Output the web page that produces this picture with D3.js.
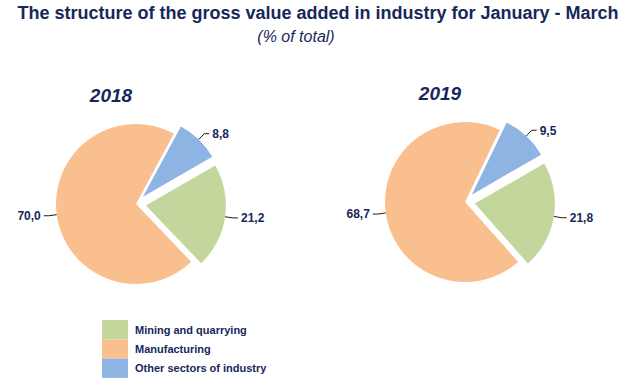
<!DOCTYPE html>
<html lang="en">

<head>
    <meta charset="UTF-8">
    <title>Gross value added in industry</title>
    <script src="https://d3js.org/d3.v7.min.js"></script>
    <style>
        body { margin: 0; background: #fff; }
        text { font-family: "Liberation Sans", Arial, sans-serif; fill: #17275a; }
    </style>
</head>

<body>
    <div id="plot-container"></div>

    <script>
        // data
        const categories = ["Mining and quarrying", "Manufacturing", "Other sectors of industry"];
        const years = ["2018", "2019"];
        const values2018 = [21.2, 70.0, 8.8];
        const values2019 = [21.8, 68.7, 9.5];
        const seriesValues = [values2018, values2019];

        const colors = ["#c3d69b", "#fabf8f", "#8eb4e3"];
        const explode = [10, 0, 10];   // px each slice is pulled out

        const width = 631, height = 387;
        const radius = 80;
        const centers = [[136, 204], [465, 202]];
        const startDeg = 60;

        const svg = d3.select("#plot-container")
            .append("svg")
            .attr("width", width)
            .attr("height", height);

        // titles
        svg.append("text")
            .attr("x", 318)
            .attr("y", 19)
            .attr("text-anchor", "middle")
            .style("font-size", "18px")
            .style("font-weight", "bold")
            .text("The structure of the gross value added in industry for January - March");

        svg.append("text")
            .attr("x", 296)
            .attr("y", 42)
            .attr("text-anchor", "middle")
            .style("font-size", "16px")
            .style("font-style", "italic")
            .text("(% of total)");

        const pie = d3.pie()
            .sort(null)
            .value(d => d)
            .startAngle(startDeg * Math.PI / 180)
            .endAngle(startDeg * Math.PI / 180 + 2 * Math.PI);

        const arc = d3.arc().innerRadius(0).outerRadius(radius);
        const fmt = v => d3.format(".1f")(v).replace(".", ",");

        years.forEach((year, k) => {
            const g = svg.append("g")
                .attr("transform", `translate(${centers[k][0]},${centers[k][1]})`);

            g.append("text")
                .attr("x", -25)
                .attr("y", -102)
                .attr("text-anchor", "middle")
                .style("font-size", "19px")
                .style("font-weight", "bold")
                .style("font-style", "italic")
                .text(year);

            const pieData = pie(seriesValues[k]);

            const slice = g.selectAll("g.slice")
                .data(pieData)
                .enter()
                .append("g")
                .attr("class", "slice")
                .attr("transform", (d, i) => {
                    const a = (d.startAngle + d.endAngle) / 2;
                    return `translate(${Math.sin(a) * explode[i]},${-Math.cos(a) * explode[i]})`;
                });

            slice.append("path")
                .attr("d", arc)
                .attr("fill", (d, i) => colors[i]);

            // leader lines and value labels
            slice.each(function (d) {
                const a = (d.startAngle + d.endAngle) / 2;
                const sx = Math.sin(a), sy = -Math.cos(a);
                const side = sx >= 0 ? 1 : -1;
                const p0 = [sx * radius, sy * radius];
                const p1 = [sx * (radius + 8), sy * (radius + 8)];
                const p2 = [p1[0] + side * 5, p1[1]];
                d3.select(this).append("path")
                    .attr("d", d3.line()([p0, p1, p2]))
                    .attr("fill", "none")
                    .attr("stroke", "#1f1f1f")
                    .attr("stroke-width", 1);
                d3.select(this).append("text")
                    .attr("x", p2[0] + side * 3)
                    .attr("y", p2[1])
                    .attr("dy", "0.36em")
                    .attr("text-anchor", side > 0 ? "start" : "end")
                    .style("font-size", "12px")
                    .style("font-weight", "bold")
                    .text(fmt(d.data));
            });
        });

        // legend
        const legend = svg.append("g").attr("transform", "translate(102,320)");
        const item = legend.selectAll("g")
            .data(categories)
            .enter()
            .append("g")
            .attr("transform", (d, i) => `translate(0,${i * 19.3})`);

        item.append("rect")
            .attr("width", 26)
            .attr("height", 19.3)
            .attr("fill", (d, i) => colors[i]);

        item.append("text")
            .attr("x", 33)
            .attr("y", 13.5)
            .style("font-size", "11px")
            .style("font-weight", "bold")
            .text(d => d);
    </script>
</body>

</html>
